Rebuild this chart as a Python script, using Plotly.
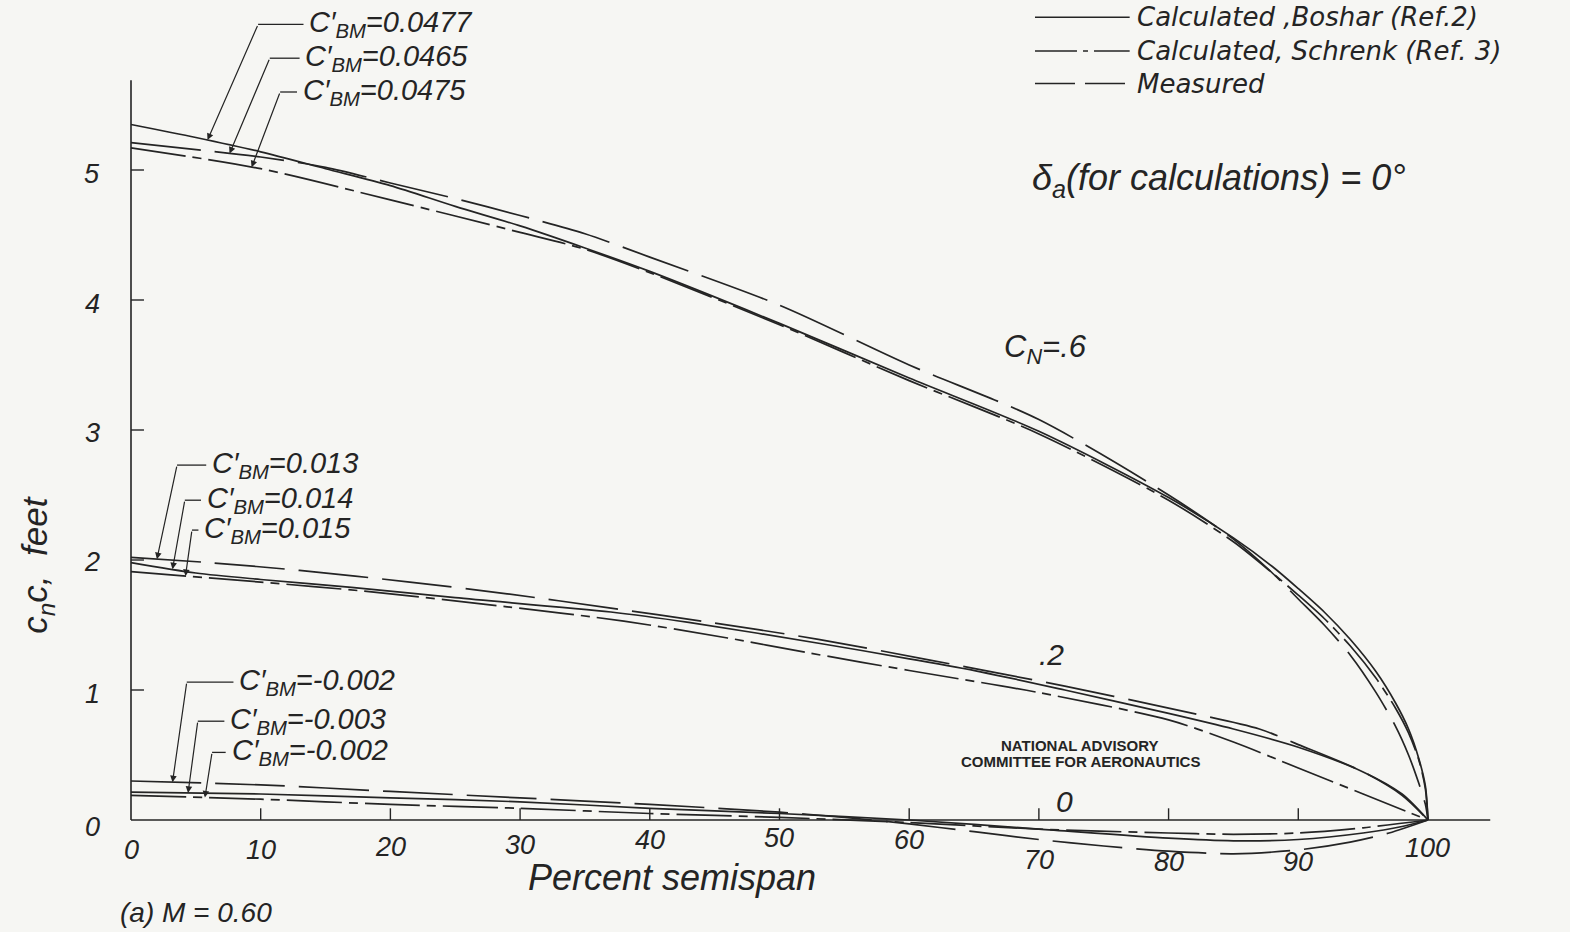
import numpy as np
import plotly.graph_objects as go

# ---------------- data ----------------
# percent semispan and c_n c (feet) for each computed / measured loading
x06_boshar = [0, 5, 10, 15, 20, 25, 30, 35, 40, 50, 60, 70, 80, 85, 88, 90, 92, 94, 96, 97.5, 98.5, 99.3, 99.8, 100]
y06_boshar = [5.35, 5.25, 5.14, 5.01, 4.88, 4.72, 4.57, 4.40, 4.22, 3.82, 3.40, 2.99, 2.48, 2.17, 1.95, 1.78, 1.60, 1.39, 1.14, 0.90, 0.70, 0.47, 0.26, 0.0]
x06_schrenk = [0, 10, 20, 30, 35, 40, 50, 60, 70, 80, 85, 88, 90, 92, 94, 96, 97.5, 98.5, 99.3, 99.8, 100]
y06_schrenk = [5.17, 5.01, 4.77, 4.52, 4.39, 4.21, 3.81, 3.38, 2.97, 2.46, 2.14, 1.90, 1.73, 1.55, 1.34, 1.09, 0.86, 0.67, 0.46, 0.24, 0.0]
x06_meas = [0, 10, 15, 20, 25, 30, 35, 40, 50, 60, 70, 80, 85, 88, 90, 92, 94, 96, 97.5, 98.5, 99.3, 99.8, 100]
y06_meas = [5.21, 5.10, 5.02, 4.90, 4.78, 4.65, 4.51, 4.33, 3.96, 3.50, 3.08, 2.50, 2.16, 1.90, 1.70, 1.50, 1.27, 0.98, 0.72, 0.50, 0.28, 0.12, 0.0]

x02_boshar = [0, 5, 10, 17, 25, 37, 43, 53.6, 60, 65.5, 72, 80, 85, 90, 95, 98, 100]
y02_boshar = [1.98, 1.90, 1.85, 1.79, 1.71, 1.60, 1.52, 1.35, 1.24, 1.14, 1.00, 0.82, 0.70, 0.56, 0.37, 0.20, 0.0]
x02_schrenk = [0, 10, 18, 29, 38, 46, 52, 60, 70, 80, 85, 90, 95, 100]
y02_schrenk = [1.91, 1.83, 1.76, 1.64, 1.53, 1.40, 1.29, 1.15, 0.98, 0.77, 0.60, 0.40, 0.20, 0.0]
x02_meas = [0, 6, 13, 21.5, 29, 37, 44, 53, 61.6, 72, 80, 87, 90, 95, 98, 100]
y02_meas = [2.02, 1.98, 1.92, 1.83, 1.74, 1.63, 1.53, 1.39, 1.23, 1.03, 0.86, 0.70, 0.58, 0.37, 0.19, 0.0]

x00_boshar = [0, 10, 20, 30, 40, 50, 60, 70, 80, 85, 90, 95, 98, 100]
y00_boshar = [0.215, 0.20, 0.17, 0.14, 0.09, 0.05, 0.0, -0.07, -0.14, -0.16, -0.15, -0.10, -0.05, 0.0]
x00_schrenk = [0, 10, 20, 30, 40, 50, 60, 70, 80, 85, 90, 95, 100]
y00_schrenk = [0.19, 0.16, 0.12, 0.09, 0.05, 0.02, -0.02, -0.07, -0.10, -0.11, -0.10, -0.06, 0.0]
x00_meas = [0, 10, 20, 30, 40, 50, 55, 60, 65, 70, 75, 80, 85, 90, 94, 97, 100]
y00_meas = [0.30, 0.27, 0.22, 0.17, 0.12, 0.06, 0.02, -0.03, -0.09, -0.15, -0.20, -0.24, -0.26, -0.23, -0.17, -0.10, 0.0]

method_names = ["Calculated ,Boshar (Ref.2)", "Calculated, Schrenk (Ref. 3)", "Measured"]
cn_labels = ["C<sub>N</sub>=.6", ".2", "0"]

x_ticks = [0, 10, 20, 30, 40, 50, 60, 70, 80, 90, 100]
x_tick_labels = ["0", "10", "20", "30", "40", "50", "60", "70", "80", "90", "100"]
y_ticks = [0, 1, 2, 3, 4, 5]
y_tick_labels = ["0", "1", "2", "3", "4", "5"]

cbm_values = ["0.0477", "0.0465", "0.0475", "0.013", "0.014", "0.015", "-0.002", "-0.003", "-0.002"]

# ---------------- styling ----------------
INK = "#242424"
PAPER = "#f6f6f3"
FONT = "Liberation Sans"
WIDE_FONT = "DejaVu Sans"
W, H = 1570, 932
X_RANGE = [-10.10, 110.95]
Y_RANGE = [-0.8615, 6.3077]

DASH = {"boshar": "solid", "schrenk": "55px,7px,9px,7px", "meas": "70px,14px"}

curves = [
    (x06_boshar, y06_boshar, "boshar"), (x06_schrenk, y06_schrenk, "schrenk"), (x06_meas, y06_meas, "meas"),
    (x02_boshar, y02_boshar, "boshar"), (x02_schrenk, y02_schrenk, "schrenk"), (x02_meas, y02_meas, "meas"),
    (x00_boshar, y00_boshar, "boshar"), (x00_schrenk, y00_schrenk, "schrenk"), (x00_meas, y00_meas, "meas"),
]
name_of = {"boshar": method_names[0], "schrenk": method_names[1], "meas": method_names[2]}

fig = go.Figure()
for xs, ys, kind in curves:
    fig.add_trace(go.Scatter(
        x=xs, y=ys, mode="lines", name=name_of[kind], showlegend=False,
        line=dict(color=INK, width=1.7, dash=DASH[kind], shape="spline", smoothing=0.8),
        hoverinfo="skip",
    ))

shapes = []
annotations = []

def line(x0, y0, x1, y1, width=1.5, dash="solid"):
    shapes.append(dict(type="line", xref="x", yref="y", x0=x0, y0=y0, x1=x1, y1=y1,
                       line=dict(color=INK, width=width, dash=dash)))

def text(x, y, s, size, xanchor="center", yanchor="middle", angle=0, yshift=0,
         bold=False, italic=True, family=FONT):
    annotations.append(dict(xref="x", yref="y", x=x, y=y, text=s,
                            showarrow=False, xanchor=xanchor, yanchor=yanchor, textangle=angle,
                            yshift=yshift,
                            font=dict(family=family, size=size, color=INK,
                                      style="italic" if italic else "normal",
                                      weight="bold" if bold else "normal")))

# axes (drawn by hand, like the original)
line(0, 0, 0, 5.69, width=1.6)
line(0, 0, 104.8, 0, width=1.6)
for v in y_ticks[1:]:
    line(0, v, 1.0, v, width=1.4)
for v in x_ticks[1:-1]:
    line(v, 0, v, 0.09, width=1.4)

y_label_shift = [-7, -4, -2, -3, -4, -4]
for v, lab, sh in zip(y_ticks, y_tick_labels, y_label_shift):
    text(-3.0, v, lab, 27, yshift=sh)
x_label_drop = [30, 30, 27, 25, 20, 18, 20, 40, 42, 42, 28]
for v, lab, d in zip(x_ticks, x_tick_labels, x_label_drop):
    text(v, 0, lab, 27, yshift=-d)

text(41.7, -0.44, "Percent semispan", 36)
text(-1.0, -0.71, "(a) M = 0.60", 28, xanchor="left")
text(-7.2, 1.96, "c<sub>n</sub>c,  feet", 35, angle=-90)

# curve family labels
text(70.5, 3.62, cn_labels[0], 31)
text(71.0, 1.27, cn_labels[1], 30)
text(72.0, 0.14, cn_labels[2], 30)

# NACA stamp
text(73.2, 0.575, "NATIONAL ADVISORY", 15, bold=True, italic=False)
text(73.2, 0.45, "COMMITTEE FOR AERONAUTICS", 15, bold=True, italic=False)

# legend drawn by hand
leg_x0, leg_x1, leg_text = 69.7, 77.0, 77.4
leg_y = [6.175, 5.915, 5.665]
leg_dash = ["solid", "42px,6px,5px,6px", "40px,10px"]
for yy, dd, nm in zip(leg_y, leg_dash, method_names):
    line(leg_x0, yy, leg_x1, yy, width=1.5, dash=dd)
    text(leg_text, yy, nm, 26, xanchor="left", family=WIDE_FONT)

text(69.3, 4.92, "δ<sub>a</sub>(for calculations) = 0°", 36, xanchor="left")

# C'BM call-outs: (value idx, curve idx, text x, text y, knee x, tip x)
callouts = [
    (0, 0, 13.6, 6.12, 9.8, 5.9),
    (1, 2, 13.3, 5.86, 10.7, 7.6),
    (2, 1, 13.1, 5.60, 11.5, 9.3),
    (3, 5, 6.1, 2.73, 3.55, 2.0),
    (4, 3, 5.7, 2.46, 4.15, 3.2),
    (5, 4, 5.5, 2.23, 4.70, 4.2),
    (6, 8, 8.2, 1.06, 4.30, 3.2),
    (7, 6, 7.5, 0.76, 5.15, 4.4),
    (8, 7, 7.6, 0.52, 6.25, 5.7),
]
for vi, ci, tx, ty, kx, tipx in callouts:
    cx, cy, _ = curves[ci]
    tipy = float(np.interp(tipx, cx, cy))
    line(kx, ty, tx - 0.3, ty, width=1.3)
    annotations.append(dict(xref="x", yref="y", axref="x", ayref="y", x=tipx, y=tipy, ax=kx, ay=ty,
                            text="", showarrow=True, arrowhead=2, arrowsize=1.1, arrowwidth=1.2,
                            arrowcolor=INK, standoff=0))
    text(tx, ty, f"C′<sub>BM</sub>={cbm_values[vi]}", 29, xanchor="left")

fig.update_layout(
    width=W, height=H, margin=dict(l=0, r=0, t=0, b=0),
    paper_bgcolor=PAPER, plot_bgcolor=PAPER,
    xaxis=dict(range=X_RANGE, visible=False, fixedrange=True),
    yaxis=dict(range=Y_RANGE, visible=False, fixedrange=True),
    shapes=shapes, annotations=annotations, showlegend=False,
)
fig.write_html("out.html", config={"displayModeBar": False},
               post_script="document.body.style.margin='0';document.body.style.background='#f6f6f3';")
